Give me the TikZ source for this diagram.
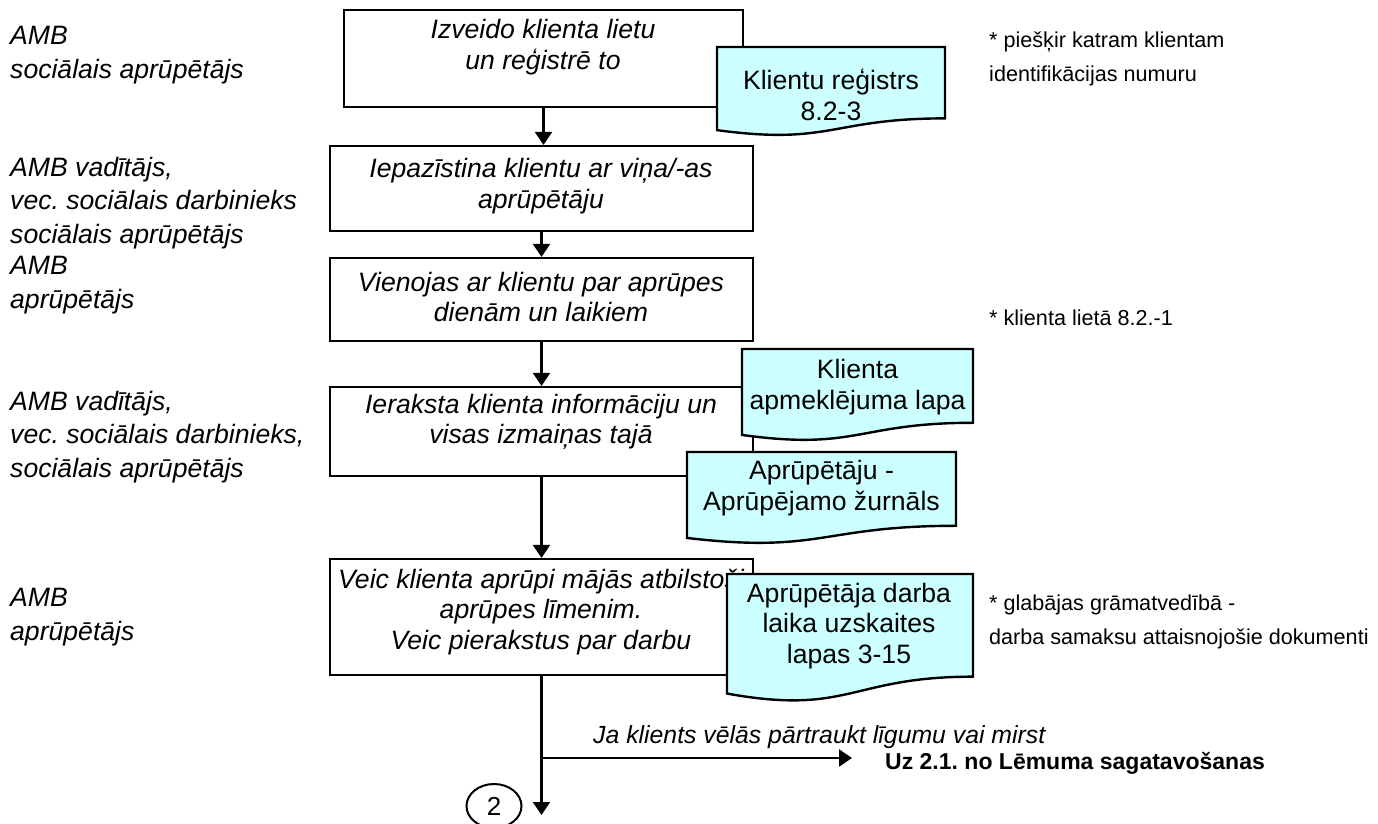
\documentclass[tikz,border=0pt]{standalone}
\usepackage{fontspec}
\setmainfont{Liberation Sans}
\usetikzlibrary{arrows.meta,shapes.geometric}
\frenchspacing

\definecolor{paperfill}{HTML}{CCFFFF}

% document symbol: left, top, width, height (y grows downward)
\newcommand\paperdoc[4]{%
  \filldraw[docline] (#1,#2) -- ({#1+#3},#2) -- ({#1+#3},{#2+0.802*#4})
    .. controls ({#1+0.5*#3},{#2+0.802*#4}) and ({#1+0.5*#3},{#2+1.107*#4}) .. (#1,{#2+0.934*#4}) -- cycle;}

\begin{document}
\begin{tikzpicture}[x=1pt,y=-1pt,
  stepbox/.style={draw=black, line width=2.2pt, fill=white, inner sep=0pt},
  steptext/.style={inner sep=0pt, align=center, font=\fontsize{26.6}{30.5}\selectfont\itshape},
  doctext/.style={inner sep=0pt, align=center, font=\fontsize{26.6}{30.5}\selectfont},
  roletext/.style={inner sep=0pt, anchor=west, align=left, font=\fontsize{26.6}{33.5}\selectfont\itshape},
  notetext/.style={inner sep=0pt, anchor=west, align=left, font=\fontsize{21.6}{34}\selectfont},
  docline/.style={draw=black, line width=2.4pt, fill=paperfill, line join=miter},
  flowarrow/.style={draw=black, line width=2.2pt, -{Triangle[width=17pt,length=13pt]}}]

\useasboundingbox (0,0) rectangle (1378,823);

% process steps
\node[stepbox, minimum width=399pt, minimum height=97pt] (b1) at (543.5,58.5) {};
\node[stepbox, minimum width=423pt, minimum height=85pt] (b2) at (541.5,188.5) {};
\node[stepbox, minimum width=423pt, minimum height=83pt] (b3) at (541.5,299.5) {};
\node[stepbox, minimum width=423pt, minimum height=89pt] (b4) at (541.5,431.5) {};
\node[stepbox, minimum width=423pt, minimum height=116pt] (b5) at (541.5,617) {};

\node[steptext] (t1) at (543,47) {Izveido klienta lietu\\un reģistrē to};
\node[steptext] (t2) at (541,186) {Iepazīstina klientu ar viņa/-as\\aprūpētāju};
\node[steptext] (t3) at (541,297) {Vienojas ar klientu par aprūpes\\dienām un laikiem};
\node[steptext] (t4) at (541,422) {Ieraksta klienta informāciju un\\visas izmaiņas tajā};
\node[steptext] (t5) at (541,612) {Veic klienta aprūpi mājās atbilstoši\\aprūpes līmenim.\\Veic pierakstus par darbu};

% flow between steps
\draw[flowarrow] (b1.south) -- (b1.south |- b2.north);
\draw[flowarrow] (b2.south) -- (b3.north);
\draw[flowarrow] (b3.south) -- (b4.north);
\draw[flowarrow] (b4.south) -- (b5.north);

\coordinate (fork) at (541.5,758);
\coordinate (exitpt) at (852,758);
\coordinate (endpt) at (541.5,815);
\draw[flowarrow] (b5.south) -- (endpt);
\draw[flowarrow] (fork) -- (exitpt);

% documents
\paperdoc{717}{47}{228}{89}
\node[doctext] (d1) at (831,95) {Klientu reģistrs\\8.2-3};
\paperdoc{742}{349}{231}{92}
\node[doctext] (d2) at (857.5,387) {Klienta\\apmeklējuma lapa};
\paperdoc{687}{452}{269}{92}
\node[doctext] (d3) at (821.5,488) {Aprūpētāju -\\Aprūpējamo žurnāls};
\paperdoc{727}{574}{246}{128}
\node[doctext] (d4) at (849,626) {Aprūpētāja darba\\laika uzskaites\\lapas 3-15};

% responsible persons
\node[roletext] (r1) at (10,55) {AMB\\sociālais aprūpētājs};
\node[roletext] (r2) at (10,203) {AMB vadītājs,\\vec. sociālais darbinieks\\sociālais aprūpētājs};
\node[roletext] (r3) at (10,285) {AMB\\aprūpētājs};
\node[roletext] (r4) at (10,437) {AMB vadītājs,\\vec. sociālais darbinieks,\\sociālais aprūpētājs};
\node[roletext] (r5) at (10,617) {AMB\\aprūpētājs};

% remarks
\node[notetext] (n1) at (989,58.5) {* piešķir katram klientam\\identifikācijas numuru};
\node[notetext] (n2) at (989,318) {* klienta lietā 8.2.-1};
\node[notetext] (n3) at (989,622) {* glabājas grāmatvedībā -\\darba samaksu attaisnojošie dokumenti};

% exit branch and connector
\node[inner sep=0pt, anchor=west, font=\fontsize{24.8}{30}\selectfont\itshape] (cond) at (593,737) {Ja klients vēlās pārtraukt līgumu vai mirst};
\node[inner sep=0pt, anchor=west, font=\fontsize{23}{28}\selectfont\bfseries] (uz) at (885,763) {Uz 2.1. no Lēmuma sagatavošanas};
\node[draw=black, line width=2pt, ellipse, inner sep=0pt, minimum width=55pt, minimum height=44pt, font=\fontsize{26}{30}\selectfont] (conn) at (494,806) {2};

\end{tikzpicture}
\end{document}
